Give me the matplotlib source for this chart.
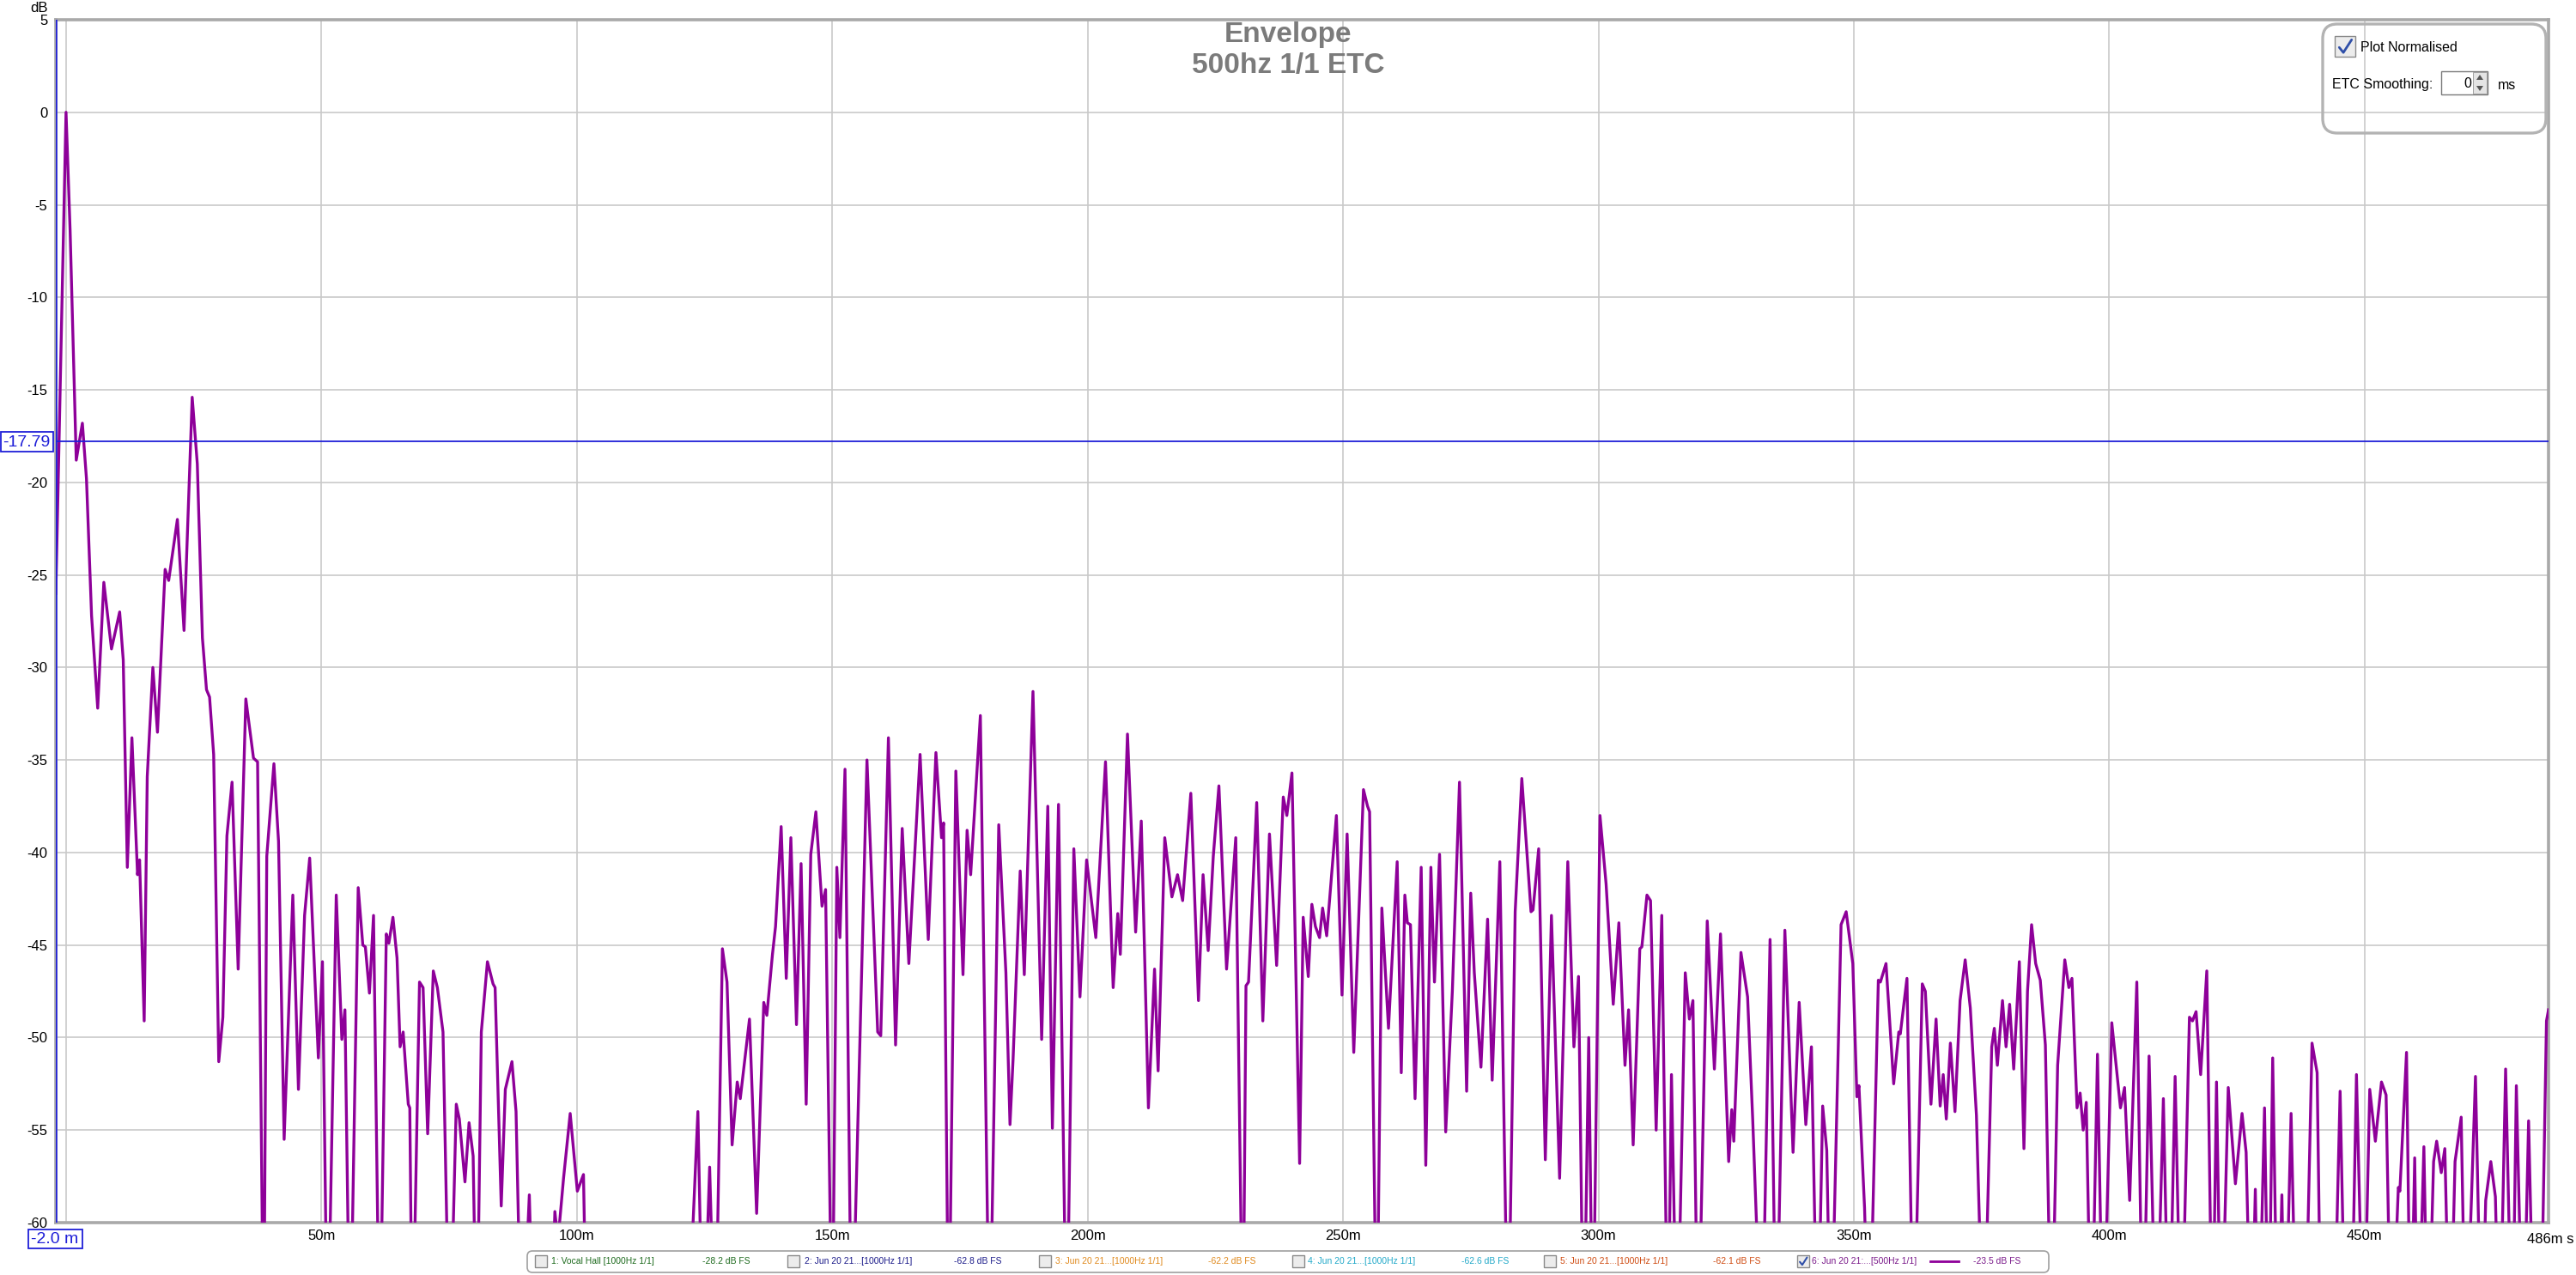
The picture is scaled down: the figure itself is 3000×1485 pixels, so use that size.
import matplotlib
matplotlib.use('Agg')
import matplotlib.pyplot as plt
from matplotlib.patches import FancyBboxPatch, Rectangle, Polygon
from matplotlib.lines import Line2D

plt.rcParams['font.family'] = ['Liberation Sans', 'DejaVu Sans']

W, H, DPI = 3000, 1485, 100

# ---------------- data ----------------
time_ms = [
    -2, 0, 0.8, 2.0, 3.2, 4.0, 5.0, 6.2, 7.4, 8.9, 10.5, 11.2, 12.0, 12.9, 14.0, 14.4, 15.3, 15.9,
    17.0, 17.9, 19.4, 20.1, 21.8, 23.1, 24.7, 25.7, 26.7, 27.5, 28.1, 28.9, 29.9, 30.7, 31.5, 32.5,
    33.7, 35.2, 36.7, 37.5, 38.7, 39.3, 40.7, 41.6, 42.7, 44.4, 45.5, 46.7, 47.7, 49.4, 50.2, 51.2,
    52.9, 54.0, 54.6, 55.6, 57.2, 58.1, 58.6, 59.4, 60.2, 61.4, 62.7, 63.2, 64.0, 64.8, 65.4, 66.0,
    67.0, 67.3, 67.8, 69.2, 69.9, 70.8, 71.9, 72.7, 73.8, 75.1, 76.4, 77.0, 78.1, 78.9, 79.7, 80.4,
    81.3, 82.5, 83.6, 84.0, 85.2, 86.0, 87.3, 88.1, 89.2, 90.7, 91.6, 94.8, 95.7, 96.3, 97.4, 98.7,
    100.1, 101.3, 102.0, 121.5, 123.7, 124.7, 126.0, 127.1, 128.5, 129.4, 130.4, 131.4, 132.0, 133.8,
    135.2, 136.6, 137.2, 138.3, 138.9, 140.0, 141.0, 141.9, 143.0, 143.9, 144.9, 145.8, 146.8, 148.0,
    148.7, 150.0, 150.9, 151.5, 152.5, 153.8, 156.8, 158.9, 159.5, 161.0, 162.4, 163.7, 165.0, 167.2,
    168.8, 170.3, 171.4, 171.8, 172.8, 174.2, 175.6, 176.4, 177.1, 179.0, 180.8, 182.6, 184.0, 184.8,
    185.4, 186.8, 187.6, 189.3, 191.0, 192.2, 193.1, 194.3, 195.9, 197.3, 198.5, 199.8, 201.6, 203.5,
    205.0, 205.9, 206.4, 207.8, 209.4, 210.5, 211.9, 213.1, 213.8, 215.1, 216.5, 217.6, 218.6, 220.2,
    221.7, 222.6, 223.6, 224.6, 225.7, 227.2, 229.0, 230.4, 231.0, 231.5, 233.1, 234.3, 235.6, 237.0,
    238.3, 239.0, 240.0, 241.5, 242.2, 243.2, 243.9, 244.6, 245.4, 246.0, 246.8, 248.7, 249.8, 250.8,
    252.1, 254.0, 254.8, 255.2, 256.6, 257.6, 258.9, 260.6, 261.4, 262.1, 262.6, 263.2, 264.1, 265.3,
    266.2, 267.2, 267.9, 268.9, 270.1, 271.4, 272.8, 274.2, 275.0, 275.7, 277.0, 278.3, 279.2, 280.7,
    282.3, 283.7, 285.0, 286.8, 287.2, 288.3, 289.6, 290.8, 292.4, 294.0, 295.2, 296.1, 297.1, 298.1,
    298.9, 300.3, 301.5, 302.9, 304.0, 305.2, 305.9, 306.8, 308.1, 308.5, 309.5, 310.2, 311.3, 312.4,
    313.6, 314.3, 315.4, 317.0, 317.8, 318.5, 319.5, 321.3, 322.7, 323.9, 325.5, 326.1, 326.5, 327.9,
    329.2, 330.2, 332.0, 333.6, 334.8, 336.5, 338.1, 339.3, 340.6, 341.7, 342.9, 343.9, 344.7, 345.5,
    347.5, 348.5, 349.8, 350.6, 351.0, 352.1, 353.0, 354.8, 355.2, 356.3, 357.8, 358.8, 359.1, 360.4,
    361.7, 363.4, 364.0, 365.1, 366.1, 366.9, 367.5, 368.1, 368.9, 369.8, 370.8, 371.8, 372.8, 374.0,
    375.4, 377.0, 377.5, 378.1, 379.1, 379.8, 380.5, 381.3, 382.4, 383.3, 384.0, 384.8, 385.6, 386.5,
    387.5, 388.7, 389.9, 391.3, 392.1, 392.7, 393.7, 394.3, 394.9, 395.5, 396.5, 397.7, 398.8, 400.5,
    402.2, 403.0, 404.0, 405.4, 406.6, 407.8, 409.2, 410.6, 411.7, 412.9, 414.1, 415.7, 416.3, 417.0,
    417.9, 419.1, 420.2, 421.0, 421.9, 423.3, 424.7, 426.0, 426.8, 427.8, 428.6, 429.2, 430.4, 431.2,
    432.0, 433.0, 433.8, 434.4, 435.6, 436.7, 438.3, 439.7, 440.7, 441.5, 443.9, 445.2, 446.3, 447.3,
    448.4, 449.8, 451.0, 452.1, 453.3, 454.2, 455.2, 456.6, 456.9, 458.2, 459.0, 459.8, 460.4, 461.6,
    462.4, 463.5, 464.1, 465.0, 465.7, 466.7, 467.7, 468.9, 469.8, 471.7, 472.9, 473.7, 474.7, 475.6,
    476.4, 477.6, 478.9, 479.7, 481.0, 482.1, 483.2, 484.4, 485.6, 486.0,
]
level_db = [
    -26, 0, -6.4, -18.8, -16.8, -19.8, -27.2, -32.2, -25.4, -29.0, -27.0, -29.6, -40.8, -33.8, -41.2, -40.4, -49.1, -35.9,
    -30.0, -33.5, -24.7, -25.3, -22.0, -28.0, -15.4, -19.0, -28.4, -31.2, -31.6, -34.7, -51.3, -48.9, -39.1, -36.2,
    -46.3, -31.7, -34.9, -35.1, -68, -40.2, -35.2, -39.4, -55.5, -42.3, -52.8, -43.4, -40.3, -51.1, -45.9, -68,
    -42.3, -50.1, -48.5, -68, -41.9, -45.0, -45.1, -47.6, -43.4, -68, -44.4, -44.9, -43.5, -45.7, -50.5, -49.7,
    -53.6, -53.8, -68, -47.0, -47.3, -55.2, -46.4, -47.3, -49.7, -68, -53.6, -54.4, -57.8, -54.6, -56.4, -68,
    -49.7, -45.9, -47.1, -47.3, -59.1, -52.8, -51.3, -54.0, -68, -58.5, -68, -68, -59.4, -61, -57.6, -54.1,
    -58.3, -57.4, -68, -68, -54.0, -68, -57.0, -68, -45.2, -47.0, -55.8, -52.4, -53.3, -49.0,
    -59.5, -48.1, -48.8, -45.5, -44.0, -38.6, -46.8, -39.2, -49.3, -40.6, -53.6, -40.1, -37.8, -42.9,
    -42.0, -68, -40.8, -44.6, -35.5, -68, -35.0, -49.7, -49.9, -33.8, -50.4, -38.7, -46.0, -34.7,
    -44.7, -34.6, -39.2, -38.4, -68, -35.6, -46.6, -38.8, -41.2, -32.6, -68, -38.5, -46.5, -54.7,
    -51.2, -41.0, -46.6, -31.3, -50.1, -37.5, -54.9, -37.4, -68, -39.8, -47.8, -40.4, -44.6, -35.1,
    -47.3, -43.3, -45.5, -33.6, -44.3, -38.3, -53.8, -46.3, -51.8, -39.2, -42.4, -41.2, -42.6, -36.8,
    -48.0, -41.2, -45.3, -40.2, -36.4, -46.3, -39.2, -68, -47.2, -47.0, -37.3, -49.1, -39.0, -46.1,
    -37.0, -38.0, -35.7, -56.8, -43.5, -46.7, -42.8, -44.0, -44.6, -43.0, -44.5, -38.0, -47.7, -39.0,
    -50.8, -36.6, -37.5, -37.8, -68, -43.0, -49.5, -40.5, -51.9, -42.3, -43.8, -43.9, -53.3, -40.8,
    -56.9, -40.8, -47.0, -40.1, -55.1, -47.5, -36.2, -52.9, -42.2, -46.5, -51.6, -43.6, -52.3, -40.5,
    -68, -43.2, -36.0, -43.2, -43.1, -39.8, -56.6, -43.4, -57.6, -40.5, -50.5, -46.7, -68, -50.0,
    -68, -38.0, -41.7, -48.2, -43.8, -51.5, -48.5, -55.8, -45.2, -45.1, -42.3, -42.6, -55.0, -43.4,
    -68, -52.0, -68, -46.5, -49.0, -48.0, -68, -43.7, -51.7, -44.4, -56.7, -53.9, -55.6, -45.4,
    -47.8, -54.4, -68, -44.7, -68, -44.2, -56.2, -48.1, -54.7, -50.5, -68, -53.7, -56.1, -68,
    -43.9, -43.2, -46.0, -53.2, -52.6, -59.2, -68, -46.9, -47.0, -46.0, -52.5, -49.7, -49.8, -46.8,
    -68, -47.1, -47.5, -53.6, -49.0, -53.7, -52.0, -54.4, -50.3, -54.0, -48.0, -45.8, -48.4, -54.2,
    -68, -50.5, -49.5, -51.5, -48.0, -50.5, -48.2, -51.7, -45.9, -56.0, -47.5, -43.9, -46.0, -46.9,
    -50.4, -68, -51.5, -45.8, -47.3, -46.8, -53.8, -53.0, -55.0, -53.5, -68, -50.9, -68, -49.2,
    -53.8, -52.7, -58.8, -47.0, -68, -51.0, -68, -53.3, -68, -52.1, -68, -48.9, -49.1, -48.6,
    -52.0, -46.4, -68, -52.4, -68, -52.7, -57.9, -54.1, -56.2, -68, -58.2, -68, -53.8, -68,
    -51.1, -68, -58.5, -68, -54.1, -68, -68, -50.3, -51.9, -68, -68, -52.9, -68, -68,
    -52.0, -68, -52.8, -55.6, -52.4, -53.1, -68, -58.1, -58.3, -50.8, -68, -56.5, -68, -55.9,
    -68, -56.7, -55.6, -57.3, -56.0, -68, -56.7, -54.3, -68, -52.1, -68, -58.8, -56.7, -58.6,
    -68, -51.7, -68, -52.6, -68, -54.5, -68, -68, -49.1, -48.5,
]

x_ticks = [0, 50, 100, 150, 200, 250, 300, 350, 400, 450]
x_tick_labels = ['', '50m', '100m', '150m', '200m', '250m', '300m', '350m', '400m', '450m']
x_end_label = '486m s'
y_ticks = [5, 0, -5, -10, -15, -20, -25, -30, -35, -40, -45, -50, -55, -60]
y_tick_labels = ['5', '0', '-5', '-10', '-15', '-20', '-25', '-30', '-35', '-40', '-45', '-50', '-55', '-60']

cursor_time = -2.0
cursor_level = -17.79
cursor_time_label = '-2.0 m'
cursor_level_label = '-17.79'

title_lines = ['Envelope', '500hz 1/1 ETC']

legend_names = ['1: Vocal Hall [1000Hz 1/1]', '2: Jun 20 21...[1000Hz 1/1]', '3: Jun 20 21...[1000Hz 1/1]',
                '4: Jun 20 21...[1000Hz 1/1]', '5: Jun 20 21...[1000Hz 1/1]', '6: Jun 20 21:...[500Hz 1/1]']
legend_levels = ['-28.2 dB FS', '-62.8 dB FS', '-62.2 dB FS', '-62.6 dB FS', '-62.1 dB FS', '-23.5 dB FS']
legend_colors = ['#1f6b1f', '#1c1c8a', '#e08a1e', '#22a9c9', '#cf4c12', '#7a1a8a']
legend_checked = [False, False, False, False, False, True]

CURVE = '#8e0099'
BLUE = '#1f1fd8'
GRID = '#c9c9c9'
FRAME = '#a9a9a9'

# ---------------- figure ----------------
fig = plt.figure(figsize=(W / DPI, H / DPI), dpi=DPI)
fig.patch.set_facecolor('white')
ax_l, ax_r, ax_t, ax_b = 65, 2968, 23, 1424
ax = fig.add_axes([ax_l / W, 1 - ax_b / H, (ax_r - ax_l) / W, (ax_b - ax_t) / H])
ax.set_xlim(-2, 486)
ax.set_ylim(-60, 5)

ax.set_xticks(x_ticks)
ax.set_xticklabels(x_tick_labels)
ax.set_yticks(y_ticks)
ax.set_yticklabels(y_tick_labels)
ax.tick_params(axis='both', length=0, labelsize=12, colors='black')
ax.tick_params(axis='y', pad=7)
ax.tick_params(axis='x', pad=6)
ax.grid(True, color=GRID, lw=1.2)
ax.set_axisbelow(True)
for s in ax.spines.values():
    s.set_color(FRAME)
    s.set_linewidth(2.6)

ax.plot(time_ms, level_db, color=CURVE, lw=2.4, solid_joinstyle='round', zorder=3)
ax.axhline(cursor_level, color=BLUE, lw=1.3, zorder=4)
ax.axvline(cursor_time, color=BLUE, lw=1.8, zorder=4)

def fx(x):
    return x / W

def fy(y):
    return 1 - y / H

inch = fig.dpi_scale_trans

def rect_px(x0, y0, x1, y1, **kw):
    return Rectangle((x0 / DPI, (H - y1) / DPI), (x1 - x0) / DPI, (y1 - y0) / DPI, transform=inch, **kw)

# "486m s" end label
fig.text(fx(2943), fy(1443), x_end_label, fontsize=12, ha='left', va='center')

# y label
fig.text(fx(46), fy(9), 'dB', fontsize=12, ha='center', va='center')

# cursor label boxes
fig.patches.append(rect_px(1, 503, 62, 526, facecolor='white', edgecolor=BLUE, lw=1.3, zorder=5))
fig.text(fx(31), fy(515), cursor_level_label, fontsize=14, color=BLUE, ha='center', va='center', zorder=6)
fig.patches.append(rect_px(33, 1432, 96, 1454, facecolor='white', edgecolor=BLUE, lw=1.3, zorder=5))
fig.text(fx(64), fy(1443), cursor_time_label, fontsize=14, color=BLUE, ha='center', va='center', zorder=6)

# title
fig.text(fx(1500), fy(41), title_lines[0], fontsize=24, fontweight='bold', color='#7b7b7b', ha='center', va='center')
fig.text(fx(1500), fy(77), title_lines[1], fontsize=24, fontweight='bold', color='#7b7b7b', ha='center', va='center')

# options box (top right)
fig.patches.append(FancyBboxPatch((2705 / DPI, (H - 155) / DPI), 260 / DPI, 127 / DPI,
                                  boxstyle='round,pad=0,rounding_size=0.17', transform=inch,
                                  facecolor='none', edgecolor='#b3b3b3', lw=2.4, zorder=5))

def checkbox(x0, y0, size, checked, check_color='#2f4fa8'):
    fig.patches.append(rect_px(x0, y0, x0 + size, y0 + size, facecolor='#ececec', edgecolor='#8a8a8a', lw=1.0, zorder=6))
    if checked:
        xs = [x0 + 0.22 * size, x0 + 0.42 * size, x0 + 0.82 * size]
        ys = [y0 + 0.55 * size, y0 + 0.80 * size, y0 + 0.18 * size]
        fig.lines.append(Line2D([v / DPI for v in xs], [(H - v) / DPI for v in ys], transform=inch,
                                color=check_color, lw=2.0 if size > 18 else 1.5, solid_capstyle='round', zorder=7))

checkbox(2719, 42, 24, True)
fig.text(fx(2749), fy(55), 'Plot Normalised', fontsize=11.5, ha='left', va='center', zorder=7)
fig.text(fx(2716), fy(99), 'ETC Smoothing:', fontsize=11.5, ha='left', va='center', zorder=7)
fig.patches.append(rect_px(2843, 83, 2897, 110, facecolor='white', edgecolor='#7a7a7a', lw=1.0, zorder=6))
fig.patches.append(rect_px(2880, 84, 2896, 109, facecolor='#e4e4e4', edgecolor='#a0a0a0', lw=0.7, zorder=6))
fig.text(fx(2878), fy(97), '0', fontsize=11.5, ha='right', va='center', zorder=7)
up = [(2884, 93), (2892, 93), (2888, 87)]
dn = [(2884, 100), (2892, 100), (2888, 106)]
for tri in (up, dn):
    fig.patches.append(Polygon([(a / DPI, (H - b) / DPI) for a, b in tri], closed=True, transform=inch,
                               facecolor='#555555', edgecolor='none', zorder=7))
fig.text(fx(2909), fy(99), 'ms', fontsize=11.5, ha='left', va='center', zorder=7)

# legend bar (bottom)
fig.patches.append(FancyBboxPatch((614 / DPI, (H - 1482) / DPI), (2386 - 614) / DPI, 25 / DPI,
                                  boxstyle='round,pad=0,rounding_size=0.06', transform=inch,
                                  facecolor='white', edgecolor='#a0a0a0', lw=1.2, zorder=5))
cb_x = [623, 917, 1210, 1505, 1798, 2093]
name_x = [642, 937, 1229, 1523, 1817, 2110]
lvl_x = [818, 1111, 1407, 1702, 1995, 2298]
ly = 1469
for i in range(len(legend_names)):
    checkbox(cb_x[i], ly - 7, 14, legend_checked[i])
    fig.text(fx(name_x[i]), fy(ly), legend_names[i], fontsize=7.5, color=legend_colors[i], ha='left', va='center', zorder=7)
    fig.text(fx(lvl_x[i]), fy(ly), legend_levels[i], fontsize=7.5, color=legend_colors[i], ha='left', va='center', zorder=7)
fig.lines.append(Line2D([2248 / DPI, 2281 / DPI], [(H - ly) / DPI, (H - ly) / DPI], transform=inch,
                        color=CURVE, lw=2.0, zorder=7))

fig.savefig('out.png', dpi=DPI)
